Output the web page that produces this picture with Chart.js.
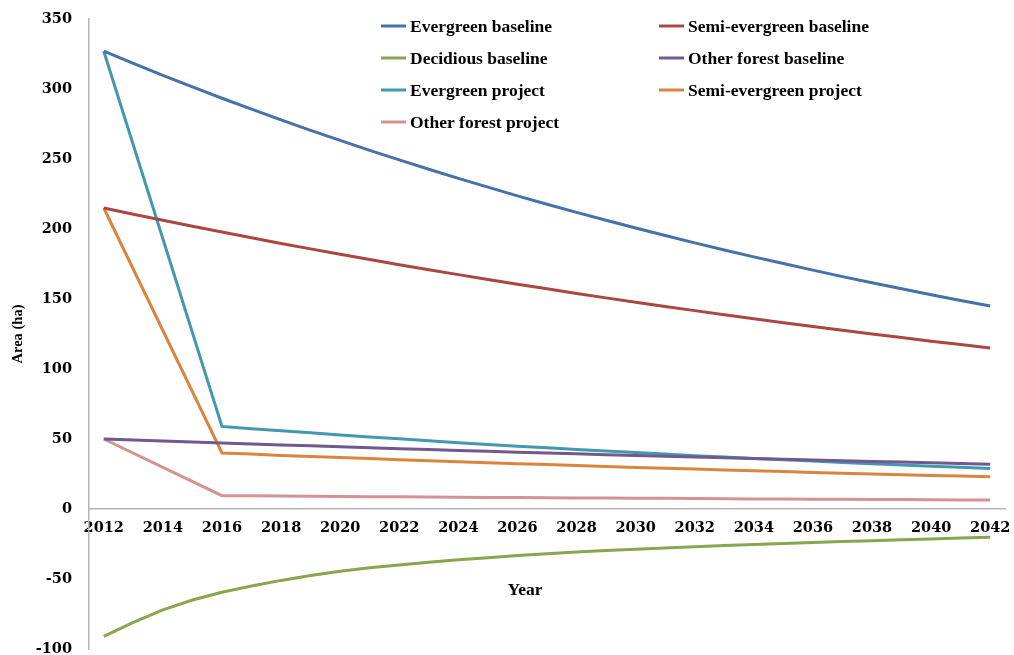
<!DOCTYPE html>
<html>
<head>
<meta charset="utf-8">
<script src="https://cdn.jsdelivr.net/npm/chart.js@4.4.1/dist/chart.umd.min.js"></script>
<style>
html,body{margin:0;padding:0;background:#fff;}
#wrap{width:1014px;height:655px;}
</style>
</head>
<body>
<div id="wrap"><canvas id="c" width="1014" height="655"></canvas></div>
<script>
const years = [2012,2013,2014,2015,2016,2017,2018,2019,2020,2021,2022,2023,2024,2025,2026,2027,2028,2029,2030,2031,2032,2033,2034,2035,2036,2037,2038,2039,2040,2041,2042];

const evergreenBaseline = [327,318.3,309.8,301.5,293.4,285.6,277.9,270.5,263.3,256.2,249.4,242.7,236.2,229.9,223.7,217.7,211.9,206.3,200.7,195.4,190.1,185,180.1,175.3,170.6,166,161.6,157.3,153,148.9,145];
const semiEvergreenBaseline = [215,210.6,206.2,202,197.8,193.7,189.7,185.8,182,178.2,174.5,170.9,167.4,164,160.6,157.3,154,150.8,147.7,144.7,141.7,138.8,135.9,133.1,130.4,127.7,125,122.5,119.9,117.5,115];
const deciduousBaseline = [-91,-81,-72,-65,-59.5,-55,-51,-47.5,-44.5,-42,-40,-38,-36.3,-34.8,-33.3,-32,-30.8,-29.7,-28.7,-27.8,-26.9,-26.1,-25.3,-24.6,-23.9,-23.2,-22.6,-22,-21.4,-20.8,-20.2];
const otherForestBaseline = [50,49.3,48.5,47.8,47.1,46.4,45.7,45.1,44.4,43.7,43.1,42.5,41.8,41.2,40.6,40,39.4,38.8,38.3,37.7,37.1,36.6,36,35.5,35,34.5,34,33.5,33,32.5,32];
const evergreenProject = [327,null,null,null,59,57.4,55.9,54.4,52.9,51.5,50.1,48.7,47.4,46.1,44.9,43.7,42.5,41.4,40.3,39.2,38.1,37.1,36.1,35.1,34.2,33.2,32.3,31.5,30.6,29.8,29];
const semiEvergreenProject = [215,null,null,null,40,39.2,38.3,37.5,36.7,36,35.2,34.5,33.7,33,32.3,31.7,31,30.3,29.7,29.1,28.5,27.9,27.3,26.7,26.1,25.6,25,24.5,24,23.5,23];
const otherForestProject = [50,null,null,null,9.5,9.4,9.2,9.1,8.9,8.8,8.7,8.6,8.4,8.3,8.2,8,7.9,7.8,7.7,7.6,7.5,7.4,7.2,7.1,7,6.9,6.8,6.7,6.6,6.5,6.4];

const yTicks = [-100,-50,0,50,100,150,200,250,300,350];

const seriesNames = ['Evergreen baseline','Semi-evergreen baseline','Decidious baseline','Other forest baseline','Evergreen project','Semi-evergreen project','Other forest project'];
const seriesData = [evergreenBaseline, semiEvergreenBaseline, deciduousBaseline, otherForestBaseline, evergreenProject, semiEvergreenProject, otherForestProject];
const seriesColors = ['#4572A7','#AA4643','#89A54E','#71588F','#4198AF','#DB843D','#D39392'];

const serifBold = '"Liberation Serif","Times New Roman",serif';
const tickFont = '"DejaVu Serif",serif';

const legendPlugin = {
  id: 'twoColLegend',
  afterDraw(chart) {
    const ctx = chart.ctx;
    ctx.save();
    ctx.font = 'bold 17.5px ' + serifBold;
    ctx.textBaseline = 'middle';
    ctx.textAlign = 'left';
    chart.data.datasets.forEach((ds, i) => {
      const col = i % 2, row = Math.floor(i / 2);
      const x0 = col === 0 ? 381 : 659;
      const y = 26 + row * 32;
      ctx.strokeStyle = ds.borderColor;
      ctx.lineWidth = 3;
      ctx.beginPath();
      ctx.moveTo(x0, y);
      ctx.lineTo(x0 + 25, y);
      ctx.stroke();
      ctx.fillStyle = '#000';
      ctx.fillText(ds.label, x0 + 29, y + 1);
    });
    ctx.restore();
  }
};

const xTitlePlugin = {
  id: 'xTitle',
  afterDraw(chart) {
    const ctx = chart.ctx;
    ctx.save();
    ctx.font = 'bold 17.5px ' + serifBold;
    ctx.fillStyle = '#000';
    ctx.textAlign = 'center';
    ctx.textBaseline = 'middle';
    ctx.fillText('Year', 525, 590);
    ctx.restore();
  }
};

new Chart(document.getElementById('c'), {
  type: 'line',
  data: {
    labels: years,
    datasets: seriesNames.map((n, i) => ({
      label: n,
      data: seriesData[i],
      borderColor: seriesColors[i],
      backgroundColor: seriesColors[i],
      borderWidth: 3,
      pointRadius: 0,
      tension: 0,
      spanGaps: true,
      fill: false
    }))
  },
  options: {
    responsive: false,
    animation: false,
    layout: { padding: { left: 10, right: 9, top: 19, bottom: 6 } },
    plugins: { legend: { display: false }, tooltip: { enabled: false } },
    scales: {
      x: {
        type: 'category',
        offset: true,
        position: { y: 0 },
        grid: { display: false, drawTicks: false },
        border: { display: true, color: '#b5b5b5', width: 1.5 },
        ticks: {
          autoSkip: false,
          maxRotation: 0,
          minRotation: 0,
          padding: 11,
          color: '#000',
          font: { family: tickFont, weight: 'bold', size: 14.5 },
          callback: function (v, i) { return i % 2 === 0 ? this.getLabelForValue(v) : ''; }
        },
        afterFit: (s) => { s.height = 0; s.paddingLeft = 0; s.paddingRight = 0; s.paddingTop = 0; s.paddingBottom = 0; }
      },
      y: {
        min: -100,
        max: 350,
        grid: { display: false, drawTicks: false },
        border: { display: true, color: '#b5b5b5', width: 1.5 },
        afterBuildTicks: (s) => { s.ticks = yTicks.map(v => ({ value: v })); },
        afterFit: (s) => { s.width = 79; s.paddingTop = 0; s.paddingBottom = 0; },
        ticks: {
          padding: 17,
          color: '#000',
          font: { family: tickFont, weight: 'bold', size: 14.5 }
        },
        title: {
          display: true,
          text: 'Area (ha)',
          color: '#000',
          padding: { top: 0, bottom: 10 },
          font: { family: serifBold, weight: 'bold', size: 14.5 }
        }
      }
    }
  },
  plugins: [legendPlugin, xTitlePlugin]
});
</script>
</body>
</html>
